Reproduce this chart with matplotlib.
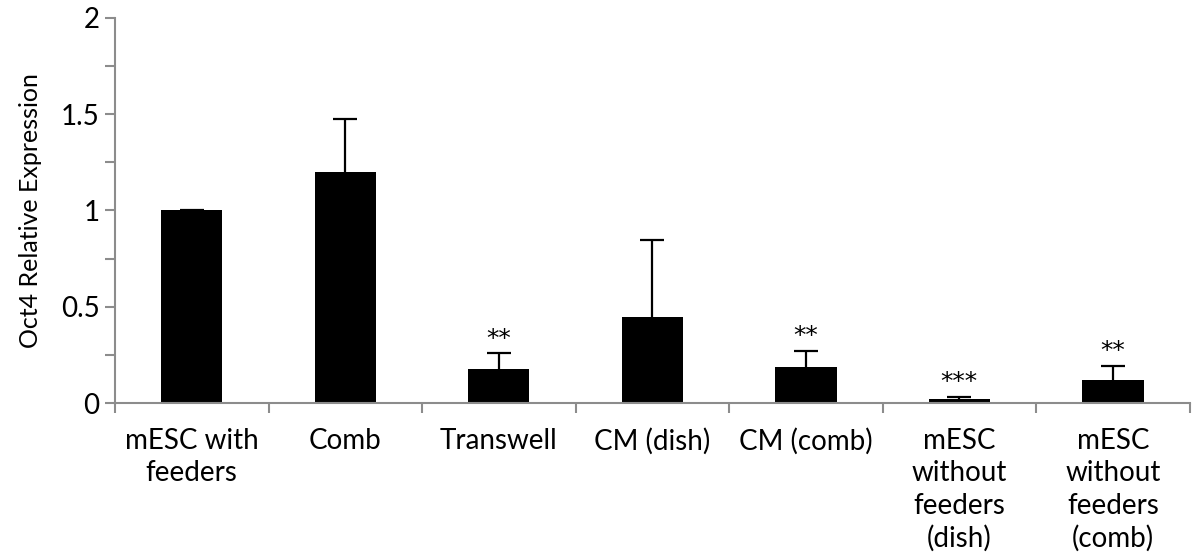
import numpy as np
from matplotlib import pyplot as plt

plt.rcParams['font.family'] = ['Lato', 'DejaVu Sans']

# data
categories = ['mESC with\nfeeders', 'Comb', 'Transwell', 'CM (dish)', 'CM (comb)',
              'mESC\nwithout\nfeeders\n(dish)', 'mESC\nwithout\nfeeders\n(comb)']
values = [1.0, 1.2, 0.175, 0.447, 0.189, 0.019, 0.121]
errors = [0.005, 0.275, 0.083, 0.40, 0.08, 0.013, 0.07]
stars = ['', '', '**', '', '**', '***', '**']

gray = '#8c8c8c'

fig = plt.figure(figsize=(11.98, 5.59), dpi=100)
ax = fig.add_axes([0.096, 0.279, 0.897, 0.689])

x = np.arange(len(categories))
ax.bar(x, values, width=0.40, color='black', zorder=2)
# only upper error bars, no cap at the bar top
eb = ax.errorbar(x, values, yerr=[np.zeros(len(values)), errors], fmt='none',
                 ecolor='black', elinewidth=1.6, capsize=8.5, capthick=1.6, zorder=3)
eb[1][0].set_visible(False)

# significance stars
for i in range(len(values)):
	if stars[i]:
		ax.annotate(stars[i], (x[i], values[i] + errors[i]), xytext=(0, 2),
		            textcoords='offset points', ha='center', va='bottom',
		            fontsize=18, family='DejaVu Sans')

ax.set_xlim(-0.5, len(categories) - 0.5)
ax.set_ylim(0, 2)
ax.set_yticks([0, 0.5, 1, 1.5, 2])
ax.set_yticklabels(['0', '0.5', '1', '1.5', '2'])
ax.set_yticks(np.arange(0, 2.01, 0.25), minor=True)
ax.set_xticks(x)
ax.set_xticklabels(categories, fontsize=20, linespacing=1.3, va='top')
ax.set_xticks(np.arange(-0.5, len(categories), 1), minor=True)

ax.tick_params(axis='x', which='major', length=0, pad=18)
ax.tick_params(axis='x', which='minor', length=7, width=1.5, color=gray, direction='out')
ax.tick_params(axis='y', which='major', length=7, width=1.5, color=gray, labelsize=20, pad=4)
ax.tick_params(axis='y', which='minor', length=7, width=1.5, color=gray)

for s in ['top', 'right']:
	ax.spines[s].set_visible(False)
for s in ['left', 'bottom']:
	ax.spines[s].set_color(gray)
	ax.spines[s].set_linewidth(1.5)

ax.set_ylabel('Oct4 Relative Expression', fontsize=18, labelpad=14)

plt.savefig('out.png', dpi=100)
